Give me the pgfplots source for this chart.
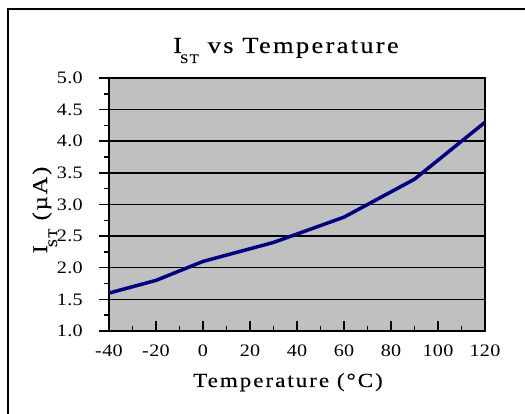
\documentclass[border=0pt]{standalone}
\usepackage{pgfplots}
\pgfplotsset{compat=1.18}
\usepackage{fontspec}
\setmainfont{Liberation Serif}
\newfontfamily\labelfont{Liberation Serif}[FakeStretch=1.15, LetterSpace=10, FakeBold=0.2]
\newfontfamily\tickfont{Liberation Serif}[FakeStretch=1.15, LetterSpace=2]
\definecolor{plotbg}{RGB}{192,192,192}
\definecolor{navyline}{RGB}{0,0,128}

\begin{document}
\begin{tikzpicture}[x=1pt,y=1pt]
  \useasboundingbox (0,0) rectangle (525,414);
  % outer chart frame
  \draw[line width=2pt] (8,-5) -- (8,405) -- (540,405);
  \begin{axis}[
    at={(109pt,83pt)}, anchor=south west,
    scale only axis, width=376pt, height=253pt,
    xmin=-40, xmax=120, ymin=1, ymax=5,
    xtick={-40,-20,...,120}, ytick={1,1.5,...,5},
    minor x tick num=1, minor y tick num=1,
    xtick pos=left, ytick pos=left,
    xtick align=inside, ytick align=outside,
    major tick length=10pt, minor tick length=5pt,
    tick style={black, line width=1.5pt},
    axis line style={line width=2.2pt},
    ymajorgrids, grid style={black, line width=1.5pt},
    axis background/.style={fill=plotbg},
    /pgf/number format/assume math mode=true,
    tick label style={font=\fontsize{17.5}{19}\selectfont\tickfont, inner sep=0pt},
    yticklabel style={anchor=east, xshift=-16pt,
      /pgf/number format/fixed, /pgf/number format/fixed zerofill,
      /pgf/number format/precision=1},
    xticklabel style={anchor=north, yshift=-14pt},
  ]
    \addplot[navyline, line width=3.5pt, line join=round] coordinates {
      (-40,1.6) (-20,1.8) (0,2.1) (30,2.4) (60,2.8) (90,3.4) (120,4.3)
    };
  \end{axis}
  % title and axis labels
  \node[anchor=base, font=\fontsize{23}{25}\selectfont\labelfont] at (286,361)
    {I\kern-2pt\raisebox{-10pt}{\fontsize{13}{13}\selectfont ST} vs Temperature};
  \node[anchor=base, font=\fontsize{20}{22}\selectfont\labelfont] at (288,27)
    {Temperature (°C)};
  \node[anchor=base, rotate=90, font=\fontsize{21}{23}\selectfont\labelfont] at (47,204)
    {I\kern-2pt\raisebox{-10pt}{\fontsize{13}{13}\selectfont ST} (µA)};
\end{tikzpicture}
\end{document}
